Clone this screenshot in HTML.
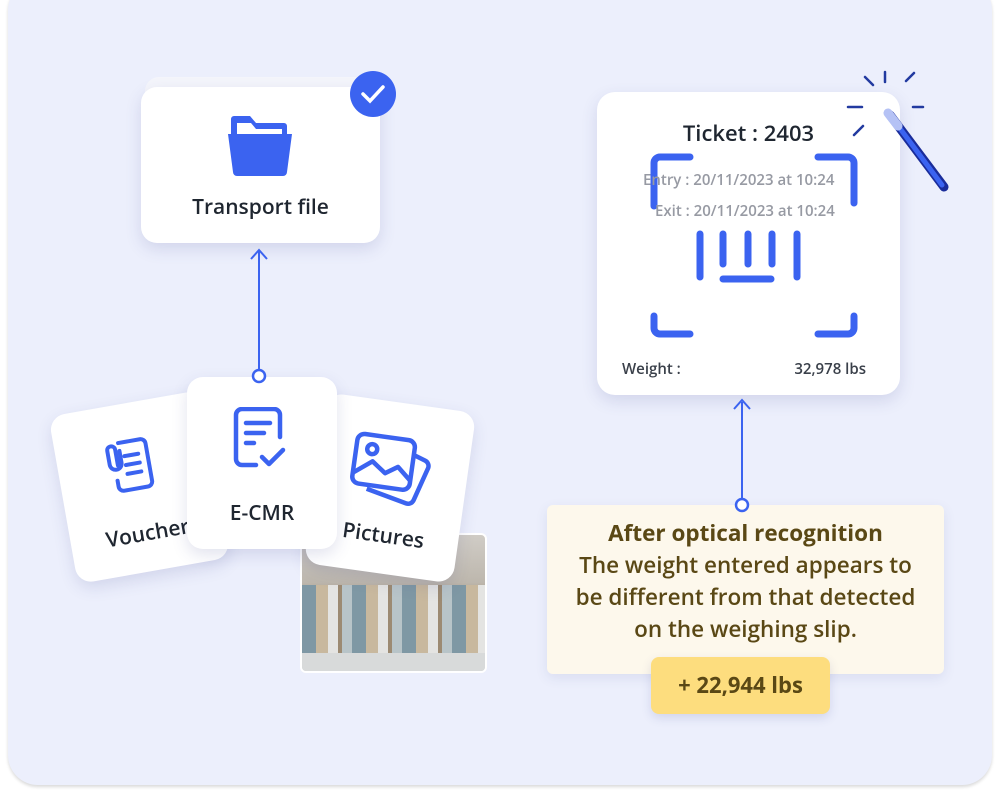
<!DOCTYPE html>
<html><head><style>
*{margin:0;padding:0;box-sizing:border-box}
body{width:1000px;height:798px;background:#fff;position:relative;overflow:hidden;font-family:"Open Sans","Liberation Sans",sans-serif}
.panel{position:absolute;left:8px;top:-20px;width:984px;height:805px;background:#ECEFFC;border-radius:30px;box-shadow:0 2px 3px rgba(0,0,0,.15)}
.card{position:absolute;background:#fff;border-radius:16px;box-shadow:0 6px 16px rgba(60,70,140,.15)}
.lbl{position:absolute;width:100%;text-align:center;color:#1f2630;font-size:21px;font-weight:600}
.y{color:#5a4815}
</style></head><body>
<div class="panel"></div>
<!-- transport -->
<div class="card" style="left:145px;top:77px;width:231px;height:40px;border-radius:14px;box-shadow:none;background:#f4f5fb"></div>
<div class="card" style="left:141px;top:87px;width:239px;height:156px">
<svg style="position:absolute;left:86px;top:28px" width="66" height="62" viewBox="0 0 66 62"><path d="M4 4a3 3 0 0 1 3-3h16l6 7h28a3 3 0 0 1 3 3v14H4z" fill="#3B63F0"/><path d="M10 8h14l5 6h26v8H10z" fill="#fff"/><path d="M1 19h64l-5 38a4 4 0 0 1-4 4H10a4 4 0 0 1-4-4z" fill="#3B63F0"/></svg>
<div class="lbl" style="top:106px">Transport file</div></div>
<svg style="position:absolute;left:349px;top:70px" width="48" height="48"><circle cx="24" cy="24" r="23" fill="#3B63F0"/><path d="M14 24l7 7 13-14" stroke="#fff" stroke-width="3.5" fill="none" stroke-linecap="round"/></svg>
<!-- photo -->
<div style="position:absolute;left:300px;top:533px;width:187px;height:140px;border:2px solid #fff;border-radius:6px;overflow:hidden;background:linear-gradient(180deg,#d0ccc6 0%,#bdb7ad 35%,#a08a70 50%,#8ea0a8 75%,#d4d6d6 100%)">
<div style="position:absolute;left:0;top:50px;width:187px;height:70px;background:repeating-linear-gradient(90deg,#7f98a4 0 14px,#c8b89e 14px 26px,#e4e4e2 26px 36px,#9c8a72 36px 40px,#b8c4c8 40px 50px)"></div>
<div style="position:absolute;left:0;top:118px;width:187px;height:22px;background:#d8dada"></div></div>
<!-- voucher -->
<div class="card" style="left:62px;top:402px;width:155px;height:170px;transform:rotate(-10deg)">
<svg style="position:absolute;left:44px;top:30px" width="60" height="62" viewBox="0 0 60 62" fill="none" stroke="#3B63F0" stroke-width="4" stroke-linecap="round"><path d="M20 8h22a5 5 0 0 1 5 5v38a5 5 0 0 1-5 5H18a5 5 0 0 1-5-5v-6"/><path d="M24 22h14M24 31h14M24 40h14"/><path d="M16 30V14a4 4 0 0 0-8 0v14a6 6 0 0 0 12 0V16"/></svg>
<div class="lbl" style="top:118px">Voucher</div></div>
<!-- pictures -->
<div class="card" style="left:315px;top:402px;width:150px;height:172px;transform:rotate(8deg)">
<svg style="position:absolute;left:28px;top:28px" width="90" height="80" viewBox="0 0 90 80" fill="none" stroke="#3B63F0" stroke-width="4.5" stroke-linejoin="round"><rect x="8" y="8" width="58" height="50" rx="7"/><circle cx="24" cy="22" r="5"/><path d="M8 48l18-14 14 10 12-8 14 12"/><path d="M66 22l12 4a6 6 0 0 1 4 7l-10 34a6 6 0 0 1-7 4L24 62"/></svg>
<div class="lbl" style="top:120px">Pictures</div></div>
<!-- ecmr -->
<div class="card" style="left:187px;top:377px;width:150px;height:172px">
<svg style="position:absolute;left:45px;top:30px" width="60" height="64" viewBox="0 0 60 64" fill="none" stroke="#3B63F0" stroke-width="4.5" stroke-linecap="round" stroke-linejoin="round"><path d="M24 58H10a6 6 0 0 1-6-6V8a6 6 0 0 1 6-6h32a6 6 0 0 1 6 6v22"/><path d="M14 16h24M14 26h18M14 36h8"/><path d="M30 50l7 7 14-14"/></svg>
<div class="lbl" style="top:122px">E-CMR</div></div>
<!-- ticket -->
<div class="card" style="left:597px;top:92px;width:303px;height:303px;border-radius:18px">
<div class="lbl" style="top:26px;font-size:22px">Ticket : 2403</div>
<svg style="position:absolute;left:0;top:0" width="303" height="303" fill="none" stroke="#3B63F0" stroke-width="7" stroke-linecap="round">
<path d="M57 114V71a6 6 0 0 1 6-6h30M221 65h30a6 6 0 0 1 6 6v40M57 224v12a6 6 0 0 0 6 6h30M221 242h30a6 6 0 0 0 6-6v-12"/>
<path d="M103 142v43M126 142v30M151 142v30M175 142v30M200 142v43M126 187h48"/></svg>
<div style="position:absolute;left:46px;top:78px;font-size:15px;font-weight:600;color:#979aa3">Entry : 20/11/2023 at 10:24</div>
<div style="position:absolute;left:58px;top:109px;font-size:15px;font-weight:600;color:#979aa3">Exit : 20/11/2023 at 10:24</div>
<div style="position:absolute;left:25px;top:267px;font-size:15px;font-weight:600;color:#3a404a">Weight :</div>
<div style="position:absolute;right:34px;top:267px;font-size:15px;font-weight:600;color:#3a404a">32,978 lbs</div>
</div>
<!-- wand -->
<svg style="position:absolute;left:840px;top:65px" width="115" height="130" fill="none" stroke-linecap="round">
<g stroke="#223aa0" stroke-width="2.5"><path d="M45 7v10M25 12l8 8M74 8l-8 8M8 42h14M73 42h10M14 70l9-9"/></g>
<path d="M50 50l54 72" stroke="#1a2c9a" stroke-width="9"/>
<path d="M50 50l52 70" stroke="#3B63F0" stroke-width="5"/>
<path d="M48 48l10 13" stroke="#b5c2f5" stroke-width="9"/>
</svg>
<!-- connectors -->
<svg style="position:absolute;left:0;top:0" width="1000" height="798">
<line x1="259" y1="250" x2="259" y2="370" stroke="#3B63F0" stroke-width="2"/>
<path d="M251 259l8-9 8 9" stroke="#3B63F0" stroke-width="2" fill="none"/>
<circle cx="259" cy="376" r="6" fill="#fff" stroke="#3B63F0" stroke-width="2.5"/>
<line x1="742" y1="402" x2="742" y2="499" stroke="#3B63F0" stroke-width="2"/>
<path d="M734 409l8-9 8 9" stroke="#3B63F0" stroke-width="2" fill="none"/>
</svg>
<!-- yellow -->
<div style="position:absolute;left:547px;top:505px;width:397px;height:169px;background:#FDF8EC;border-radius:6px;box-shadow:0 4px 12px rgba(60,70,140,.1);text-align:center;font-size:22.5px;font-weight:600;line-height:32px;padding-top:12px;white-space:nowrap" class="y"><b style="font-weight:700">After optical recognition</b><br>The weight entered appears to<br>be different from that detected<br>on the weighing slip.</div>
<svg style="position:absolute;left:733px;top:496px" width="18" height="18"><circle cx="9" cy="9" r="6" fill="#fff" stroke="#3B63F0" stroke-width="2.5"/></svg>
<div class="y" style="position:absolute;left:651px;top:657px;width:179px;height:57px;background:#FDDD7E;border-radius:8px;box-shadow:0 4px 10px rgba(60,70,140,.15);text-align:center;line-height:57px;font-size:22px;font-weight:bold">+ 22,944 lbs</div>
</body></html>
